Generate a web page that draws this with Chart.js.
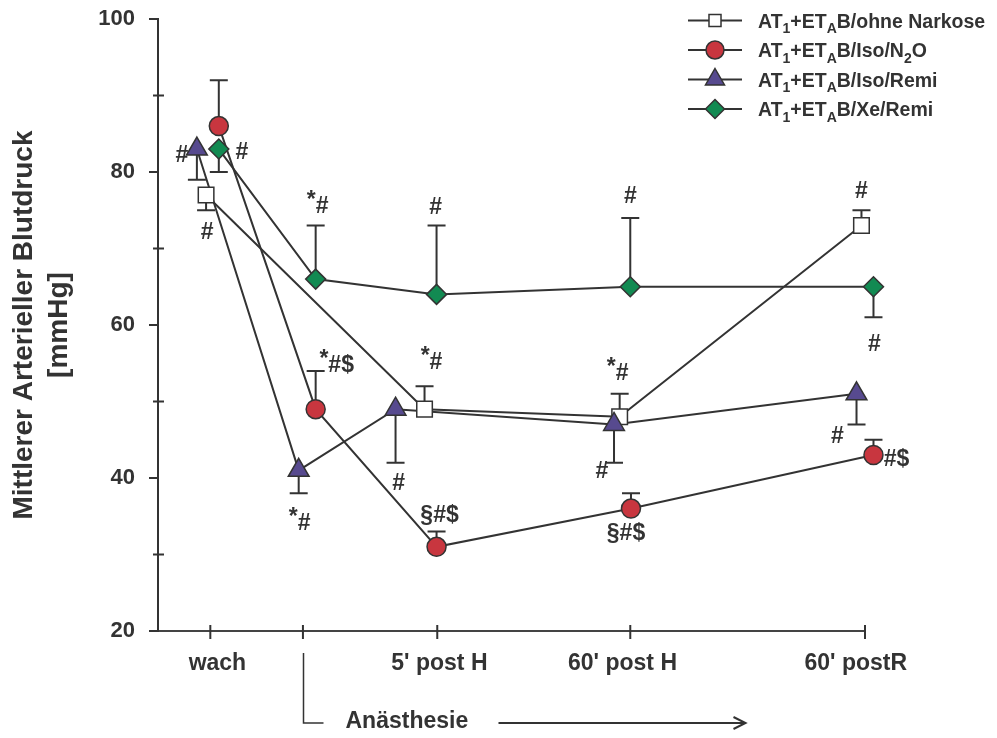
<!DOCTYPE html>
<html>
<head>
<meta charset="utf-8">
<script src="https://cdn.jsdelivr.net/npm/chart.js@4.4.1/dist/chart.umd.min.js"></script>
<style>
  html, body { margin: 0; padding: 0; background: #fff; }
  #wrap { width: 997px; height: 738px; position: relative; }
</style>
</head>
<body>
<div id="wrap"><canvas id="c"></canvas></div>
<script>
// ---- time axis (axis units 0..100) ----
const tickAt = [7.4, 20.5, 39.5, 66.8, 100];          // tick marks
const labelAt = [8.4, 39.8, 65.7, 98.7];              // category label centres
const tickLabels = ['wach', "5' post H", "60' post H", "60' postR"];
const phaseLabel = 'Anästhesie';

// ---- y axis ----
const yMajor = [20, 40, 60, 80, 100];
const yMinor = [30, 50, 70, 90];

// ---- series (mean arterial pressure, mmHg) ----
// '_' marks the following character as subscript
const seriesNames = ['AT_1+ET_AB/ohne Narkose', 'AT_1+ET_AB/Iso/N_2O', 'AT_1+ET_AB/Iso/Remi', 'AT_1+ET_AB/Xe/Remi'];

const ohneX   = [6.8, 37.7, 65.3, 99.5];
const ohneY   = [77, 49, 48, 73];
const ohneErr = [-2, 3, 3, 2];          // one-sided SD, sign gives direction
const ohneSig = ['#', '*#', '*#', '#'];

const isoN2OX   = [8.6, 22.3, 39.4, 66.9, 101.2];
const isoN2OY   = [86, 49, 31, 36, 43];
const isoN2OErr = [6, 5, 2, 2, 2];
const isoN2OSig = ['', '*#$', '§#$', '§#$', '#$'];

const isoRemiX   = [5.5, 19.9, 33.6, 64.5, 98.8];
const isoRemiY   = [83, 41, 49, 47, 51];
const isoRemiErr = [-4, -3, -7, -5, -4];
const isoRemiSig = ['#', '*#', '#', '#', '#'];

const xeRemiX   = [8.6, 22.3, 39.4, 66.8, 101.2];
const xeRemiY   = [83, 66, 64, 65, 65];
const xeRemiErr = [-3, 7, 9, 9, -4];
const xeRemiSig = ['#', '*#', '#', '#', '#'];

// ---- styling ----
const FONT = '"Liberation Sans", Arial, Helvetica, sans-serif';
const INK = '#333333';

const series = [
  { name: seriesNames[0], x: ohneX, y: ohneY, err: ohneErr, sig: ohneSig,
    shape: 'rect', fill: '#ffffff', r: 11, legendR: 8.5, order: 4,
    sigOffset: [[1, 38], [7, -46], [-2, -43], [0, -34]] },
  { name: seriesNames[1], x: isoN2OX, y: isoN2OY, err: isoN2OErr, sig: isoN2OSig,
    shape: 'circle', fill: '#c8363f', r: 9.5, legendR: 9, order: 3,
    sigOffset: [[0, 0], [21, -43], [3, -31], [-5, 25], [23, 5]] },
  { name: seriesNames[2], x: isoRemiX, y: isoRemiY, err: isoRemiErr, sig: isoRemiSig,
    shape: 'triangle', fill: '#574a8f', r: 12, legendR: 11, order: 1,
    sigOffset: [[-15, 7], [1, 53], [3, 75], [-12, 47], [-19, 43]] },
  { name: seriesNames[3], x: xeRemiX, y: xeRemiY, err: xeRemiErr, sig: xeRemiSig,
    shape: 'rectRot', fill: '#128a52', r: 10, legendR: 9.5, order: 2,
    sigOffset: [[23, 4], [2, -72], [-1, -87], [0, -90], [1, 58]] }
];

const toPoints = s => s.x.map((xv, i) => ({ x: xv, y: s.y[i] }));

const lineSets = series.map(s => ({
  data: toPoints(s), showLine: true, borderColor: INK, borderWidth: 2,
  pointRadius: 0, pointHoverRadius: 0, tension: 0, clip: false, order: 10
}));
const markerSets = series.map(s => ({
  data: toPoints(s), showLine: false, pointStyle: s.shape,
  pointRadius: s.r, pointHoverRadius: s.r,
  pointBackgroundColor: s.fill, pointBorderColor: INK, pointBorderWidth: 1.5,
  clip: false, order: s.order
}));

function drawMarker(ctx, shape, x, y, r, fill) {
  ctx.beginPath();
  if (shape === 'circle') ctx.arc(x, y, r, 0, Math.PI * 2);
  else if (shape === 'rect') { const h = r * Math.SQRT1_2; ctx.rect(x - h, y - h, 2 * h, 2 * h); }
  else if (shape === 'triangle') {
    ctx.moveTo(x, y - r); ctx.lineTo(x + 0.866 * r, y + 0.5 * r); ctx.lineTo(x - 0.866 * r, y + 0.5 * r); ctx.closePath();
  } else {
    ctx.moveTo(x - r, y); ctx.lineTo(x, y - r); ctx.lineTo(x + r, y); ctx.lineTo(x, y + r); ctx.closePath();
  }
  ctx.fillStyle = fill; ctx.fill();
  ctx.strokeStyle = INK; ctx.lineWidth = 1.5; ctx.stroke();
}

// text with single-character subscripts marked by '_'
function drawRich(ctx, str, x, y, size) {
  const runs = [];
  for (let i = 0; i < str.length; i++) {
    if (str[i] === '_') { runs.push({ t: str[i + 1], sub: true }); i++; }
    else if (runs.length && !runs[runs.length - 1].sub) runs[runs.length - 1].t += str[i];
    else runs.push({ t: str[i], sub: false });
  }
  let cx = x;
  runs.forEach(run => {
    const fs = run.sub ? Math.round(size * 0.74) : size;
    ctx.font = `bold ${fs}px ${FONT}`;
    ctx.fillText(run.t, cx, run.sub ? y + size * 0.3 : y);
    cx += ctx.measureText(run.t).width;
  });
}

// significance marks, the asterisk set slightly raised
function drawSig(ctx, text, cx, cy) {
  ctx.font = `bold 23px ${FONT}`;
  ctx.textAlign = 'left';
  ctx.textBaseline = 'middle';
  let x = cx - ctx.measureText(text).width / 2;
  for (const ch of text) {
    ctx.fillText(ch, x, ch === '*' ? cy - 6 : cy);
    x += ctx.measureText(ch).width;
  }
}

const decorations = {
  id: 'decorations',
  beforeDatasetsDraw(chart) {
    const { ctx, chartArea: a, scales: { x: xs, y: ys } } = chart;
    ctx.save();
    ctx.strokeStyle = INK;
    ctx.lineWidth = 2;
    // axis tick marks
    ctx.beginPath();
    yMajor.forEach(v => { const p = ys.getPixelForValue(v); ctx.moveTo(a.left - 9, p); ctx.lineTo(a.left, p); });
    yMinor.forEach(v => { const p = ys.getPixelForValue(v); ctx.moveTo(a.left - 5, p); ctx.lineTo(a.left + 6, p); });
    tickAt.forEach(v => { const p = xs.getPixelForValue(v); ctx.moveTo(p, a.bottom - 6); ctx.lineTo(p, a.bottom + 8); });
    ctx.stroke();
    // one-sided error bars
    ctx.beginPath();
    series.forEach(s => s.x.forEach((xv, i) => {
      const e = s.err[i];
      if (!e) return;
      const px = xs.getPixelForValue(xv);
      const p0 = ys.getPixelForValue(s.y[i]);
      const p1 = ys.getPixelForValue(s.y[i] + e);
      ctx.moveTo(px, p0); ctx.lineTo(px, p1);
      ctx.moveTo(px - 9, p1); ctx.lineTo(px + 9, p1);
    }));
    ctx.stroke();
    ctx.restore();
  },
  afterDraw(chart) {
    const { ctx, chartArea: a, scales: { x: xs, y: ys } } = chart;
    ctx.save();
    ctx.fillStyle = INK;
    ctx.strokeStyle = INK;
    // significance marks
    series.forEach(s => s.sig.forEach((t, i) => {
      if (!t) return;
      const [dx, dy] = s.sigOffset[i];
      drawSig(ctx, t, xs.getPixelForValue(s.x[i]) + dx, ys.getPixelForValue(s.y[i]) + dy);
    }));
    // anaesthesia phase bracket and arrow
    const bx = Math.round(xs.getPixelForValue(tickAt[1])) + 0.5;
    const by = a.bottom + 92;
    ctx.lineWidth = 1.5;
    ctx.beginPath();
    ctx.moveTo(bx, a.bottom + 22); ctx.lineTo(bx, by); ctx.lineTo(bx + 20, by);
    ctx.stroke();
    ctx.font = `bold 23px ${FONT}`;
    ctx.textAlign = 'left';
    ctx.textBaseline = 'middle';
    ctx.fillText(phaseLabel, bx + 42, by - 1);
    ctx.lineWidth = 2;
    ctx.beginPath();
    ctx.moveTo(bx + 195, by); ctx.lineTo(bx + 442, by);
    ctx.moveTo(bx + 430, by - 6); ctx.lineTo(bx + 442, by); ctx.lineTo(bx + 430, by + 6);
    ctx.stroke();
    // legend
    series.forEach((s, i) => {
      const ly = 20.5 + i * 29.5;
      ctx.lineWidth = 2;
      ctx.beginPath(); ctx.moveTo(688, ly); ctx.lineTo(742, ly); ctx.stroke();
      drawMarker(ctx, s.shape, 715, ly, s.legendR, s.fill);
      ctx.fillStyle = INK;
      ctx.textBaseline = 'alphabetic';
      drawRich(ctx, s.name, 758, ly + 7, 19.5);
    });
    ctx.restore();
  }
};

new Chart(document.getElementById('c'), {
  type: 'scatter',
  data: { datasets: [...markerSets, ...lineSets] },
  options: {
    responsive: true,
    maintainAspectRatio: false,
    animation: false,
    events: [],
    layout: { padding: { left: 0, right: 132, top: 19, bottom: 0 } },
    plugins: { legend: { display: false }, tooltip: { enabled: false } },
    scales: {
      x: {
        type: 'linear', min: 0, max: 100,
        afterBuildTicks: s => { s.ticks = labelAt.map(v => ({ value: v })); },
        afterFit: s => { s.height = 107; s.paddingLeft = 0; s.paddingRight = 0; },
        ticks: {
          autoSkip: false, maxRotation: 0, padding: 11, color: INK,
          font: { family: FONT, size: 23, weight: 'bold' },
          callback: (v, i) => tickLabels[i]
        },
        grid: { display: false, drawTicks: true, tickLength: 8 },
        border: { display: true, color: '#444', width: 2 }
      },
      y: {
        type: 'linear', min: 20, max: 100,
        afterFit: s => { s.width = 158; s.paddingTop = 0; s.paddingBottom = 0; },
        ticks: {
          stepSize: 10, padding: 14, color: INK,
          font: { family: FONT, size: 22, weight: 'bold' },
          callback: v => (yMajor.includes(v) ? String(v) : '')
        },
        grid: { display: false, drawTicks: true, tickLength: 9 },
        border: { display: true, color: INK, width: 2 },
        title: {
          display: true,
          text: ['Mittlerer Arterieller Blutdruck', '[mmHg]'],
          color: INK,
          font: { family: FONT, size: 28, weight: 'bold', lineHeight: 1.25 },
          padding: { top: 7, bottom: 0 }
        }
      }
    }
  },
  plugins: [decorations]
});
</script>
</body>
</html>
